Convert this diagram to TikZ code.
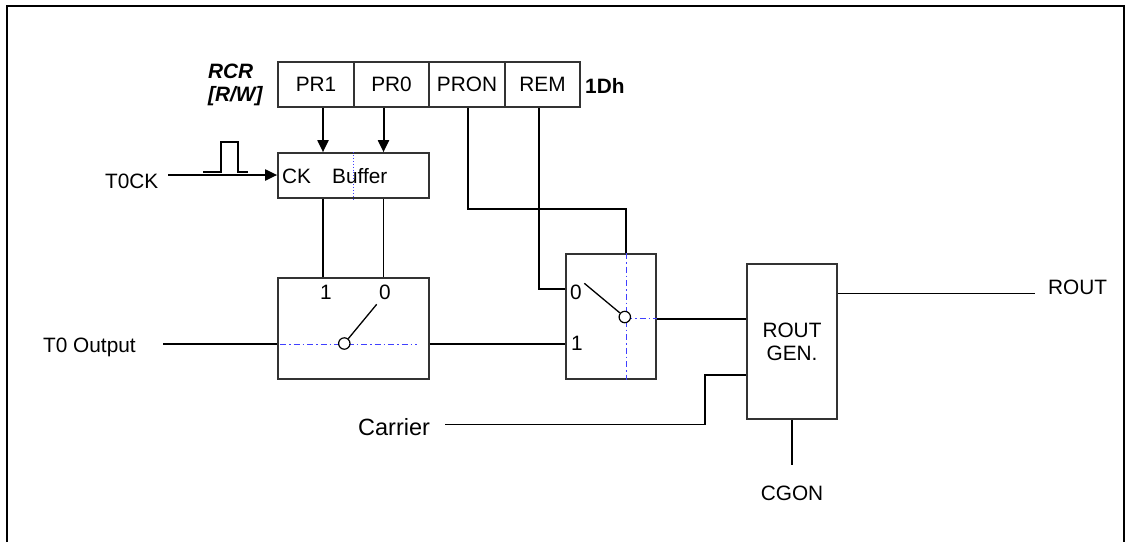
\documentclass[tikz,border=0pt]{standalone}
\usepackage{fontspec}
\setmainfont{Liberation Sans}
\usetikzlibrary{arrows.meta,calc}
\begin{document}
\begin{tikzpicture}[x=1pt,y=-1pt,
  every node/.style={inner sep=0pt,font=\fontsize{20.8}{23}\selectfont},
  box/.style={draw=black!80,line width=1.7pt,rectangle,inner sep=0pt},
  wire/.style={line width=1.4pt},
  arr/.style={line width=2pt,-{Triangle[length=12pt,width=11pt]}},
  dd/.style={draw=blue!75!white,line width=0.9pt,dash pattern=on 6pt off 3pt on 1.5pt off 3pt},
  sw/.style={circle,draw,line width=1.2pt,fill=white,minimum size=11.4pt,inner sep=0pt},
  cell/.style={box,minimum width=75.5pt,minimum height=45pt},
 ]
\useasboundingbox (0,0) rectangle (1127,542);
% frame
\draw[line width=2.2pt] (7,542) -- (7,6) -- (1124,6) -- (1124,542);

% register
\node[cell] (pr1) at (316,84.5) {PR1};
\node[cell] (pr0) at (391.5,84.5) {PR0};
\node[cell] (pron) at (467,84.5) {PRON};
\node[cell] (rem) at (542.5,84.5) {REM};
\node[anchor=base west,font=\fontsize{20.8}{23}\selectfont\bfseries] (addr) at (585,93) {1Dh};
\node[anchor=base west,font=\fontsize{20.8}{23}\selectfont\bfseries\itshape] (rcr) at (208,78) {RCR};
\node[anchor=base west,font=\fontsize{20.8}{23}\selectfont\bfseries\itshape] (rw) at (208,101) {[R/W]};

% buffer
\node[box,minimum width=151pt,minimum height=45pt] (buf) at (353.5,175.5) {};
\draw[blue!75!white,dotted,line width=0.9pt] (buf.north) -- (buf.south);
\node[anchor=base west] (ck) at (282,183) {CK};
\node[anchor=base west] (buftxt) at (332,183) {Buffer};

\draw[arr] ([xshift=7pt]pr1.south) -- ([xshift=7pt]pr1.south |- buf.north);
\draw[arr] ([xshift=-8pt]pr0.south) -- ([xshift=-8pt]pr0.south |- buf.north);

% T0CK
\node[anchor=base west] (t0ck) at (105,188) {T0CK};
\coordinate (ckin) at (168,175);
\draw[arr] (ckin) -- (ckin -| buf.west);
\draw[line width=1.2pt] (203,172) -- (221,172) -- (221,142) -- (238,142) -- (238,172) -- (248,172);

% mux1
\node[box,minimum width=151pt,minimum height=101pt] (mux1) at (353.5,328.5) {};
\draw[wire] ([xshift=7pt]pr1.south |- buf.south) -- ([xshift=7pt]pr1.south |- mux1.north);
\draw[wire] ([xshift=-8pt]pr0.south |- buf.south) -- ([xshift=-8pt]pr0.south |- mux1.north);
\node[anchor=base] (m1a) at (326,299) {1};
\node[anchor=base] (m1b) at (385,299) {0};
\draw[dd] (280,344) -- (417,344);
\node[sw] (c1) at (344.3,343.5) {};
\coordinate (s1) at (376.7,304.3);
\draw[line width=1.3pt] (s1) -- (c1);

% T0 output
\node[anchor=base west] (t0o) at (43,352) {T0 Output};
\coordinate (t0in) at (163,344);
\draw[wire] (t0in) -- (t0in -| mux1.west);

% mux2
\node[box,minimum width=90pt,minimum height=125pt] (mux2) at (611,316.5) {};
\draw[wire] (mux1.east |- t0in) -- (mux2.west |- t0in);
\draw[dd] ([xshift=15pt]mux2.north) -- ([xshift=15pt]mux2.south);
\coordinate (y318) at (0,318);
\draw[dd] ([xshift=15pt]mux2.north |- y318) -- (mux2.east |- y318);
\node[sw] (c2) at (624.8,317) {};
\coordinate (s2) at (584.3,283.3);
\draw[line width=1.3pt] (s2) -- (c2);
\node[anchor=base west] (m2a) at (570,299) {0};
\node[anchor=base west] (m2b) at (571,350) {1};

\draw[wire] ([xshift=-3.5pt]rem.south) |- ([yshift=27.5pt]mux2.west);
\draw[wire] ([xshift=1pt]pron.south) -- ++(0,101) -| ([xshift=15pt]mux2.north);

% rout gen
\node[box,minimum width=90pt,minimum height=155pt,align=center] (gen) at (792,341.5) {ROUT\\GEN.};
\coordinate (y319) at (0,319);
\draw[wire] (mux2.east |- y319) -- (gen.west |- y319);

% carrier
\node[anchor=base west,font=\fontsize{23.5}{26}\selectfont] (car) at (358,435) {Carrier};
\coordinate (carin) at (445,424.3);
\coordinate (cj) at (705,424.3);
\coordinate (y375) at (0,375);
\draw[wire] (carin) -- (cj) |- (gen.west |- y375);

% CGON
\node[anchor=base] (cgon) at (792,500) {CGON};
\draw[wire] (gen.south) -- ++(0,45);

% ROUT
\node[anchor=base west] (rout) at (1048,294) {ROUT};
\coordinate (routin) at (1035,293.3);
\draw[wire] (gen.east |- routin) -- (routin);
\end{tikzpicture}
\end{document}
